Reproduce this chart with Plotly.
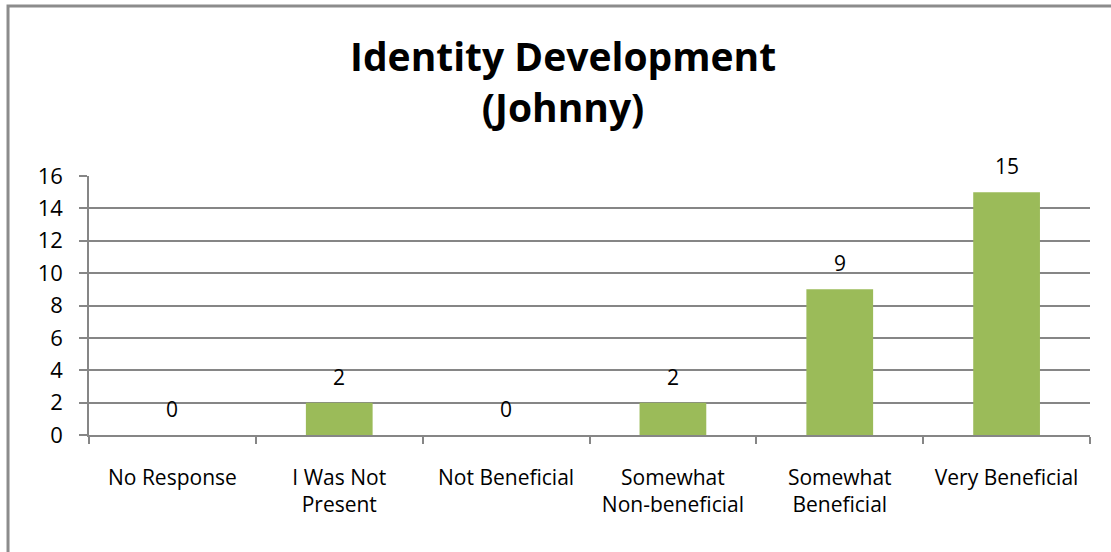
import plotly.graph_objects as go

categories = ["No Response", "I Was Not<br>Present", "Not Beneficial",
              "Somewhat<br>Non-beneficial", "Somewhat<br>Beneficial", "Very Beneficial"]
values = [0, 2, 0, 2, 9, 15]
y_ticks = [0, 2, 4, 6, 8, 10, 12, 14, 16]

FONT = "Open Sans, Carlito, Calibri, sans-serif"

fig = go.Figure(go.Bar(
    x=categories, y=values,
    marker=dict(color="#9BBB59", line=dict(width=0)),
    width=0.4, hoverinfo="skip",
))

for c, v in zip(categories, values):
    fig.add_annotation(x=c, y=v, text=str(v), showarrow=False,
                       xanchor="center", yanchor="bottom", yshift=10,
                       font=dict(size=21, family=FONT, color="black"))

fig.add_annotation(xref="paper", yref="paper", x=0.4735, y=1 + 95 / 259,
                   text="<b>Identity Development<br>(Johnny)</b>", showarrow=False,
                   xanchor="center", yanchor="middle",
                   font=dict(size=39, family=FONT, color="black"))

fig.update_layout(
    width=1111, height=552,
    margin=dict(l=89, r=21, t=176, b=117),
    paper_bgcolor="white", plot_bgcolor="white",
    showlegend=False,
    font=dict(family=FONT, size=20, color="black"),
    xaxis=dict(type="category", tickson="boundaries", ticks="outside", ticklen=7,
               tickcolor="#868686", tickwidth=1.5,
               showline=True, linecolor="#868686", linewidth=1.5,
               showgrid=False, ticklabelstandoff=23,
               tickfont=dict(size=21, family=FONT)),
    yaxis=dict(range=[0, 16], tickvals=y_ticks, ticks="outside", ticklen=8,
               tickcolor="#868686", tickwidth=1.5,
               showline=True, linecolor="#868686", linewidth=1.5,
               showgrid=True, gridcolor="#868686", gridwidth=1.5,
               zeroline=False, ticklabelstandoff=12,
               tickfont=dict(size=22, family=FONT)),
    shapes=[dict(type="rect", xref="paper", yref="paper",
                 x0=-0.0809, x1=1.03, y0=-0.48, y1=1.656,
                 line=dict(color="#8C8C8C", width=3))],
)

fig.write_html("out.html", config={"displayModeBar": False},
               post_script="document.body.style.margin='0';document.body.style.overflow='hidden';")
